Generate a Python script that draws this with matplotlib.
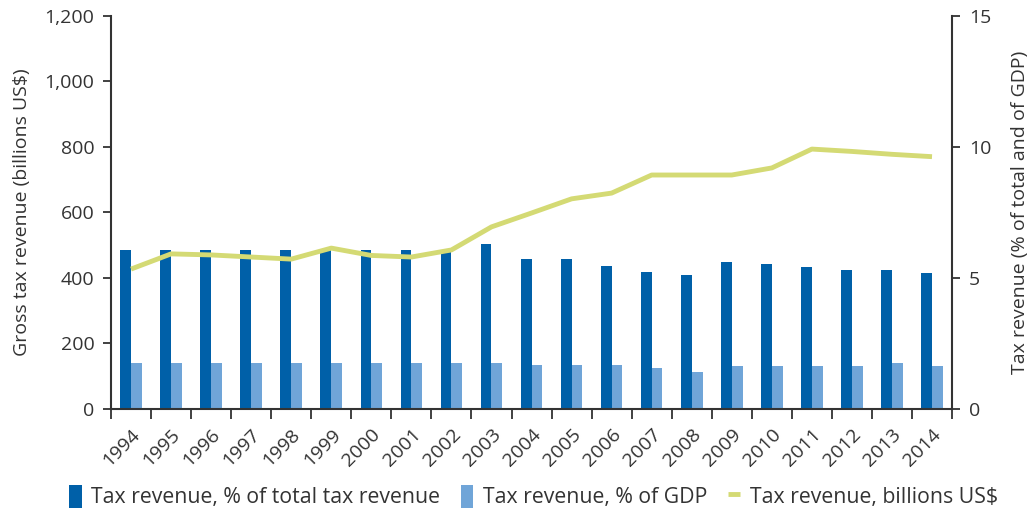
import numpy as np
import matplotlib
matplotlib.use('Agg')
import matplotlib.pyplot as plt
from matplotlib.ticker import FuncFormatter

plt.rcParams['font.family'] = ['Open Sans', 'DejaVu Sans']

years = [str(y) for y in range(1994, 2015)]
pct_total = [485, 485, 485, 485, 485, 485, 485, 485, 485, 504, 458,
             458, 437, 418, 409, 449, 443, 434, 424, 424, 415]
pct_gdp = [140, 140, 140, 140, 140, 140, 140, 140, 140, 140, 134,
           134, 134, 125, 113, 131, 131, 131, 131, 140, 131]
billions = [5.34, 5.92, 5.88, 5.80, 5.72, 6.14, 5.86, 5.80, 6.07, 6.95, 7.48,
            8.02, 8.24, 8.93, 8.93, 8.93, 9.20, 9.92, 9.83, 9.72, 9.63]

DARK = '#0060a8'
LIGHT = '#70a5d8'
LINE = '#d4da74'
TXT = '#333333'

fig = plt.figure(figsize=(10.3, 5.12), dpi=100)
ax = fig.add_axes([0.1078, 0.2012, 0.8165, 0.7676])
ax2 = ax.twinx()

x = np.arange(len(years))
w = 0.27
ax.bar(x - w/2, pct_total, w, color=DARK, label='Tax revenue, % of total tax revenue', zorder=2)
ax.bar(x + w/2, pct_gdp, w, color=LIGHT, label='Tax revenue, % of GDP', zorder=2)
ax2.plot(x, billions, color=LINE, lw=3.5, label='Tax revenue, billions US$', solid_capstyle='butt')

ax.set_xlim(-0.5, len(years) - 0.5)
ax.set_ylim(0, 1200)
ax2.set_ylim(0, 15)
ax.set_yticks(range(0, 1201, 200))
ax.yaxis.set_major_formatter(FuncFormatter(lambda v, p: f'{int(v):,}'))
ax2.set_yticks([0, 5, 10, 15])

# boundary ticks, labels at centres
ax.set_xticks(np.arange(-0.5, len(years), 1.0))
ax.set_xticklabels([])
ax.set_xticks(x, minor=True)
ax.set_xticklabels(years, minor=True, rotation=45, ha='right', rotation_mode='anchor',
                   fontsize=14, color=TXT)
ax.tick_params(axis='x', which='minor', length=0, pad=12)
ax.tick_params(axis='x', which='major', length=7, width=1.3, color=TXT)

for a in (ax, ax2):
    for s in a.spines.values():
        s.set_visible(False)
    a.tick_params(axis='y', length=6, width=1.3, color=TXT, labelcolor=TXT, labelsize=14, pad=6)
ax.spines['left'].set_visible(True)
ax.spines['bottom'].set_visible(True)
ax2.spines['right'].set_visible(True)
for s in (ax.spines['left'], ax.spines['bottom'], ax2.spines['right']):
    s.set_color(TXT)
    s.set_linewidth(1.5)

ax.set_ylabel('Gross tax revenue (billions US$)', fontsize=14, color=TXT, labelpad=10)
ax2.set_ylabel('Tax revenue (% of total and of GDP)', fontsize=14, color=TXT, labelpad=14)

h1, l1 = ax.get_legend_handles_labels()
h2, l2 = ax2.get_legend_handles_labels()
fig.legend(h1 + h2, l1 + l2, loc='lower center', bbox_to_anchor=(0.518, -0.03), ncol=3,
           frameon=False, fontsize=15.3, handlelength=0.6, handleheight=1.3,
           handletextpad=0.45, columnspacing=0.95, labelcolor=TXT)

fig.savefig('out.png', dpi=100)
